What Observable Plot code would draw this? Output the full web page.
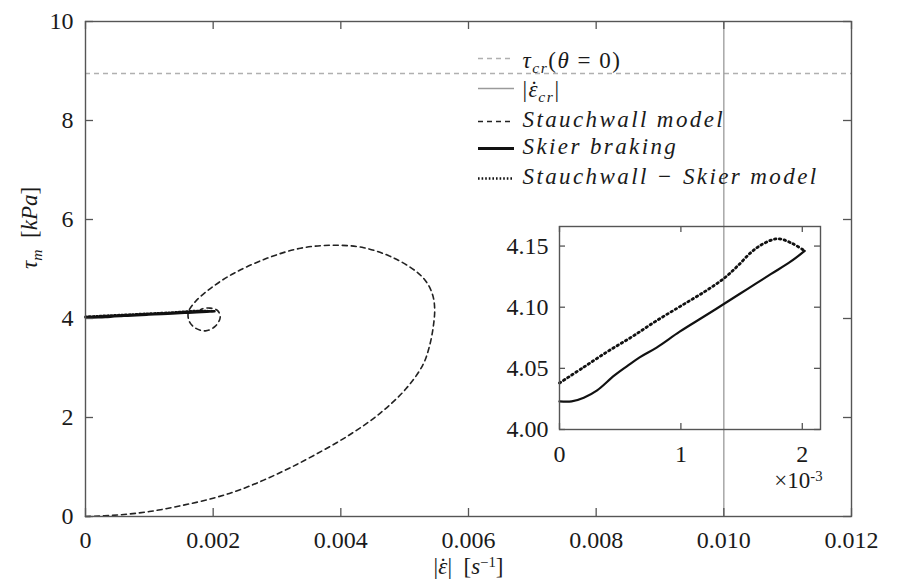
<!DOCTYPE html>
<html>
<head>
<meta charset="utf-8">
<script src="https://cdn.jsdelivr.net/npm/d3@7"></script>
<script src="https://cdn.jsdelivr.net/npm/@observablehq/plot@0.6"></script>
<style>
  body { margin: 0; background: #fff; }
  #wrap { position: relative; width: 898px; height: 584px; overflow: hidden; }
  #inset { position: absolute; left: 480px; top: 200px; }
</style>
</head>
<body>
<div id="wrap"><div id="main"></div><div id="inset"></div></div>
<script>
// ---------------- data ----------------
const tauCr = 8.95;          // kPa, critical shear stress (theta = 0)
const epsCr = 0.010;         // 1/s, critical strain rate

// Stauchwall model (dashed spiral)
const stauchX = [0, 0.5e-3, 1.0e-3, 1.5e-3, 2.0e-3, 2.4e-3, 2.8e-3, 3.2e-3, 3.6e-3, 4.1e-3, 4.6e-3, 5.02e-3,
  5.28e-3, 5.38e-3, 5.45e-3, 5.47e-3, 5.44e-3, 5.35e-3, 5.19e-3, 4.80e-3, 4.36e-3, 3.89e-3, 3.37e-3,
  2.85e-3, 2.32e-3, 1.96e-3, 1.72e-3, 1.61e-3, 1.63e-3, 1.73e-3, 1.88e-3, 2.03e-3, 2.11e-3, 2.07e-3,
  1.95e-3, 1.82e-3, 1.76e-3];
const stauchY = [0, 0.03, 0.10, 0.22, 0.37, 0.53, 0.74, 0.98, 1.25, 1.62, 2.07, 2.58,
  3.05, 3.40, 3.85, 4.20, 4.47, 4.72, 4.94, 5.24, 5.43, 5.48, 5.42,
  5.22, 4.91, 4.61, 4.34, 4.12, 3.93, 3.80, 3.75, 3.84, 4.02, 4.16,
  4.21, 4.19, 4.12];

// Skier braking (solid)
const skierX = [0, 0.1e-3, 0.2e-3, 0.31e-3, 0.45e-3, 0.56e-3, 0.66e-3, 0.8e-3, 0.99e-3, 1.2e-3, 1.36e-3,
  1.55e-3, 1.74e-3, 1.9e-3, 2.02e-3];
const skierY = [4.023, 4.023, 4.026, 4.032, 4.044, 4.052, 4.059, 4.067, 4.080, 4.093, 4.103,
  4.115, 4.127, 4.137, 4.146];

// Stauchwall - Skier model (dotted)
const comboX = [0, 0.2e-3, 0.4e-3, 0.6e-3, 0.8e-3, 1.0e-3, 1.2e-3, 1.36e-3, 1.47e-3, 1.58e-3, 1.68e-3,
  1.8e-3, 1.92e-3, 2.02e-3];
const comboY = [4.038, 4.051, 4.064, 4.076, 4.089, 4.101, 4.113, 4.124, 4.134, 4.145, 4.152,
  4.156, 4.152, 4.146];

const xTicks = [0, 0.002, 0.004, 0.006, 0.008, 0.010, 0.012];
const xTickLabels = ["0", "0.002", "0.004", "0.006", "0.008", "0.010", "0.012"];
const yTicks = [0, 2, 4, 6, 8, 10];
const yTickLabels = ["0", "2", "4", "6", "8", "10"];

const insetXTicks = [0, 0.001, 0.002];
const insetXTickLabels = ["0", "1", "2"];
const insetYTicks = [4.00, 4.05, 4.10, 4.15];
const insetYTickLabels = ["4.00", "4.05", "4.10", "4.15"];

const legendNames = ["τcr(θ = 0)", "|ε̇cr|", "Stauchwall model", "Skier braking", "Stauchwall − Skier model"];
const xLabel = "|ε̇| [s−1]";
const yLabel = "τm [kPa]";
const insetExponent = "×10−3";

// ---------------- helpers ----------------
const zip = (xs, ys) => xs.map((x, i) => ({x, y: ys[i]}));
const stauch = zip(stauchX, stauchY);
const skier = zip(skierX, skierY);
const combo = zip(comboX, comboY);

const FONT = "Liberation Serif";
const INK = "#1a1a1a";

// rich text (sub/superscripts, italics, accent dot) written into real SVG text
function rich(el, parts, size) {
  const t = d3.select(el);
  t.text(null);
  let shift = 0;
  for (const p of parts) {
    const ts = t.append("tspan").text(p.t);
    ts.attr("font-style", p.it ? "italic" : "normal");
    let target = 0, fs = size;
    if (p.sub) { target = 0.24 * size; fs = size * 0.68; }
    if (p.sup) { target = -0.30 * size; fs = size * 0.64; }
    ts.attr("font-size", fs);
    if (target !== shift) { ts.attr("dy", target - shift); shift = target; }
    if (p.dx) ts.attr("dx", p.dx);
  }
}
const DOT = "\u02D9";
const richLegend = [
  [{t: "τ", it: 1}, {t: "cr", it: 1, sub: 1}, {t: "("}, {t: "θ", it: 1}, {t: " = 0)"}],
  [{t: "|"}, {t: "ε", it: 1}, {t: DOT, dx: -9}, {t: "cr", it: 1, sub: 1, dx: -1}, {t: "|"}],
  [{t: "Stauchwall model", it: 1}],
  [{t: "Skier braking", it: 1}],
  [{t: "Stauchwall − Skier model", it: 1}]
];
const richX = [{t: "|"}, {t: "ε", it: 1}, {t: DOT, dx: -8}, {t: "|  [", dx: 0.5}, {t: "s", it: 1}, {t: "−1", sup: 1}, {t: "]"}];
const richY = [{t: "τ", it: 1}, {t: "m", it: 1, sub: 1}, {t: "  ["}, {t: "kPa", it: 1}, {t: "]"}];
const richExp = [{t: "×10"}, {t: "-3", sup: 1}];

// ---------------- main plot ----------------
const W = 898, H = 584;
const mL = 85, mR = 47, mT = 21, mB = 68;
const xDom = [0, 0.012], yDom = [0, 10];
const dX = (xDom[1] - xDom[0]) / (W - mL - mR);   // data units per px
const dY = (yDom[1] - yDom[0]) / (H - mT - mB);
const TK = 8;
const pxToX = px => xDom[0] + (px - mL) * dX;
const pxToY = px => yDom[1] - (px - mT) * dY;

// legend layout (pixel layout converted through the scale domain)
const legSampleY = [58, 88, 121, 148, 178];
const legTextY = [60, 89, 119, 146, 176];
const legStyles = [
  {stroke: "#b0b0b0", strokeWidth: 1.3, strokeDasharray: "5,4"},
  {stroke: "#9a9a9a", strokeWidth: 1.3},
  {stroke: "#222", strokeWidth: 1.6, strokeDasharray: "5,4"},
  {stroke: "#111", strokeWidth: 2.8},
  {stroke: "#111", strokeWidth: 2.4, strokeDasharray: "1.6,2"}
];
const legendRows = legendNames.map((name, i) => ({name, i}));
const legendSampleMarks = legendRows.map((r) =>
  Plot.ruleY([r], {y: () => pxToY(legSampleY[r.i]), x1: pxToX(478), x2: pxToX(514), ...legStyles[r.i]})
);

const mainPlot = Plot.plot({
  width: W, height: H,
  marginLeft: mL, marginRight: mR, marginTop: mT, marginBottom: mB,
  x: {domain: xDom},
  y: {domain: yDom},
  style: {fontFamily: FONT, fontSize: "24px", color: INK, background: "white", overflow: "visible"},
  marks: [
    Plot.ruleY([tauCr], {stroke: "#b0b0b0", strokeWidth: 1.3, strokeDasharray: "5,4"}),
    Plot.ruleX([epsCr], {stroke: "#9a9a9a", strokeWidth: 1.3}),
    Plot.line(stauch, {x: "x", y: "y", curve: "catmull-rom", stroke: "#222", strokeWidth: 1.6, strokeDasharray: "5,4"}),
    Plot.line(skier, {x: "x", y: "y", curve: "catmull-rom", stroke: "#111", strokeWidth: 2.6}),
    Plot.line(combo, {x: "x", y: "y", curve: "catmull-rom", stroke: "#111", strokeWidth: 2.2, strokeDasharray: "1.6,2"}),
    // inward ticks on all four sides
    Plot.ruleX(xTicks, {x: d => d, y1: yDom[0], y2: yDom[0] + TK * dY, stroke: "#555", strokeWidth: 1.3}),
    Plot.ruleX(xTicks, {x: d => d, y1: yDom[1], y2: yDom[1] - TK * dY, stroke: "#555", strokeWidth: 1.3}),
    Plot.ruleY(yTicks, {y: d => d, x1: xDom[0], x2: xDom[0] + TK * dX, stroke: "#555", strokeWidth: 1.3}),
    Plot.ruleY(yTicks, {y: d => d, x1: xDom[1], x2: xDom[1] - TK * dX, stroke: "#555", strokeWidth: 1.3}),
    Plot.frame({stroke: "#555", strokeWidth: 1.4}),
    Plot.axisX(xTicks, {tickSize: 0, tickPadding: 14, fontSize: 24, fontFamily: FONT, fill: INK, label: null,
      tickFormat: d => xTickLabels[xTicks.indexOf(d)]}),
    Plot.axisY(yTicks, {tickSize: 0, tickPadding: 12, fontSize: 24, fontFamily: FONT, fill: INK, label: null,
      tickFormat: d => yTickLabels[yTicks.indexOf(d)]}),
    // axis titles
    Plot.text([xLabel], {frameAnchor: "bottom", dy: 57, text: d => d, fontSize: 23, fontFamily: FONT, fill: INK}),
    Plot.text([yLabel], {frameAnchor: "left", dx: -56, rotate: -90, text: d => d, fontSize: 23, fontFamily: FONT, fill: INK}),
    // legend
    ...legendSampleMarks,
    Plot.text(legendRows, {x: () => pxToX(522), y: r => pxToY(legTextY[r.i]), text: "name", textAnchor: "start",
      fontSize: 23, fontFamily: FONT, fill: INK})
  ]
});
document.getElementById("main").appendChild(mainPlot);

// ---------------- inset ----------------
const iW = 360, iH = 300, iL = 79, iR = 20, iT = 26, iB = 71;
const ixDom = [0, 0.00215], iyDom = [4.0, 4.166];
const idX = (ixDom[1] - ixDom[0]) / (iW - iL - iR);
const idY = (iyDom[1] - iyDom[0]) / (iH - iT - iB);
const ITK = 6;

const insetPlot = Plot.plot({
  width: iW, height: iH,
  marginLeft: iL, marginRight: iR, marginTop: iT, marginBottom: iB,
  x: {domain: ixDom},
  y: {domain: iyDom},
  style: {fontFamily: FONT, fontSize: "24px", color: INK, background: "transparent", overflow: "visible"},
  marks: [
    Plot.line(skier, {x: "x", y: "y", curve: "catmull-rom", stroke: "#111", strokeWidth: 2.2}),
    Plot.line(combo, {x: "x", y: "y", curve: "catmull-rom", stroke: "#111", strokeWidth: 2.8, strokeDasharray: "1.5,3.4"}),
    Plot.ruleX(insetXTicks, {x: d => d, y1: iyDom[0], y2: iyDom[0] + ITK * idY, stroke: "#555", strokeWidth: 1.3}),
    Plot.ruleX(insetXTicks, {x: d => d, y1: iyDom[1], y2: iyDom[1] - ITK * idY, stroke: "#555", strokeWidth: 1.3}),
    Plot.ruleY(insetYTicks, {y: d => d, x1: ixDom[0], x2: ixDom[0] + ITK * idX, stroke: "#555", strokeWidth: 1.3}),
    Plot.ruleY(insetYTicks, {y: d => d, x1: ixDom[1], x2: ixDom[1] - ITK * idX, stroke: "#555", strokeWidth: 1.3}),
    Plot.frame({stroke: "#555", strokeWidth: 1.4}),
    Plot.axisX(insetXTicks, {tickSize: 0, tickPadding: 15, fontSize: 24, fontFamily: FONT, fill: INK, label: null,
      tickFormat: d => insetXTickLabels[insetXTicks.indexOf(d)]}),
    Plot.axisY(insetYTicks, {tickSize: 0, tickPadding: 11, fontSize: 24, fontFamily: FONT, fill: INK, label: null,
      tickFormat: d => insetYTickLabels[insetYTicks.indexOf(d)]}),
    Plot.text([insetExponent], {frameAnchor: "bottom-right", dy: 58, dx: 2, textAnchor: "end", text: d => d,
      fontSize: 23, fontFamily: FONT, fill: INK})
  ]
});
document.getElementById("inset").appendChild(insetPlot);

// ---------------- rich text formatting (match by content) ----------------
function richByContent(svg, content, parts, size, extra) {
  d3.select(svg).selectAll("text").each(function() {
    if (this.textContent === content) {
      rich(this, parts, size);
      if (extra) d3.select(this).attr("letter-spacing", extra);
    }
  });
}
legendNames.forEach((name, i) => richByContent(mainPlot, name, richLegend[i], 23, i >= 2 ? 2.4 : 1.5));
richByContent(mainPlot, xLabel, richX, 23);
richByContent(mainPlot, yLabel, richY, 23);
richByContent(insetPlot, insetExponent, richExp, 23);
</script>
</body>
</html>
